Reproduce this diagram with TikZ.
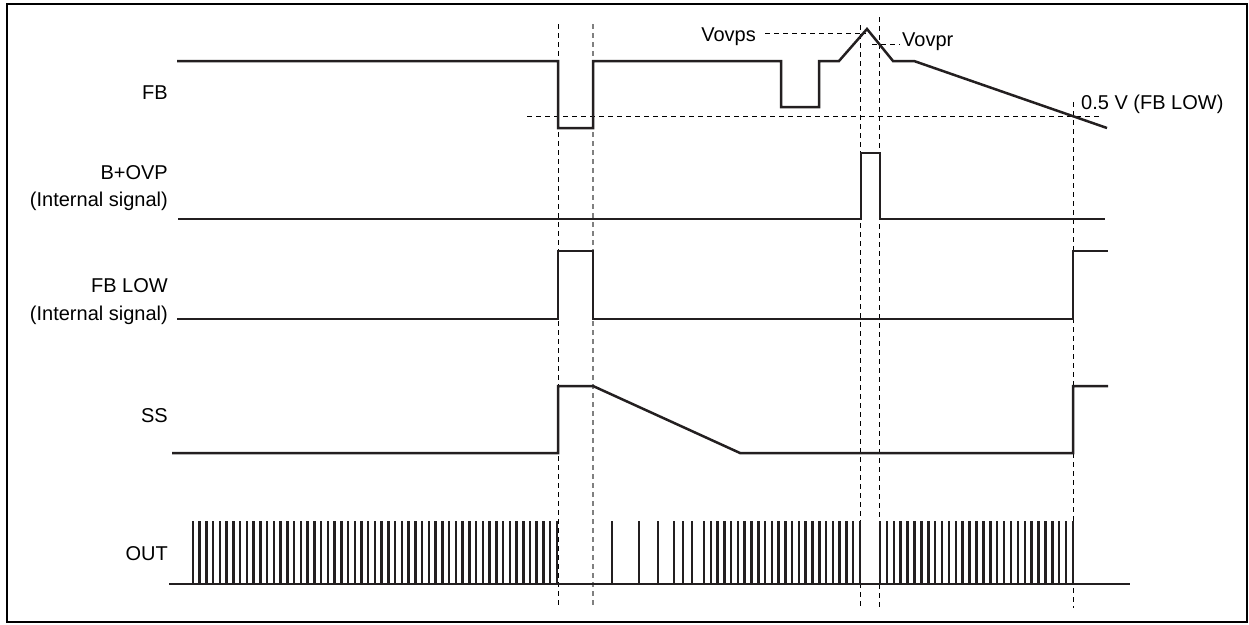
\documentclass[tikz,border=0pt]{standalone}
\usepackage{fontspec}
\setmainfont{Liberation Sans}
\begin{document}
\begin{tikzpicture}[x=1pt,y=-1pt,
  sig/.style={line width=2.5pt,color=sigcol,line join=miter},
  guide/.style={line width=1pt,dash pattern=on 5pt off 4pt,color=black},
  guidegray/.style={line width=1.2pt,dash pattern=on 5pt off 4pt,color=black!50},
  lbl/.style={inner sep=0pt,font=\fontsize{20}{24}\selectfont,color=black}]
\definecolor{sigcol}{RGB}{35,31,32}
\useasboundingbox (0,0) rectangle (1249,624);
\draw[line width=2pt] (7,4) rectangle (1246.5,622);
% vertical guides
\draw[guide] (558,24) -- (558,608);
\draw[guidegray] (593,24) -- (593,608);
\draw[guide] (860.5,25) -- (860.5,608);
\draw[guide] (879,17) -- (879,608);
\draw[guide] (1073,102) -- (1073,608);
% horizontal guides
\draw[guide] (527,116) -- (1100,116);
\draw[guide] (765,33) -- (866,33);
\draw[guide] (872,44) -- (900,44);
% FB
\draw[sig] (177,61) -- (558,61) -- (558,128) -- (593,128) -- (593,61) -- (781,61) -- (781,107) -- (819,107) -- (819,61) -- (839,61) -- (867,29) -- (893,61) -- (914,61) -- (1107,128);
% B+OVP
\draw[sig] (178,219) -- (861,219) -- (861,153) -- (880,153) -- (880,219) -- (1105,219);
% FB LOW
\draw[sig] (177,319) -- (558,319) -- (558,251) -- (593,251) -- (593,319) -- (1073,319) -- (1073,251) -- (1108,251);
% SS
\draw[sig] (172,453) -- (558,453) -- (558,386) -- (593,386) -- (740,453) -- (1073,453) -- (1073,386) -- (1108,386);
% OUT
\draw[sig] (169,584) -- (1130,584);
\foreach \i in {0,...,54} {\draw[sig] ({193+\i*6.74},584) -- ++(0,-63);}
\foreach \x in {612,639,658,674,683,692} {\draw[sig] (\x,584) -- ++(0,-63);}
\foreach \i in {0,...,23} {\draw[sig] ({704+\i*6.78},584) -- ++(0,-63);}
\foreach \i in {0,...,28} {\draw[sig] ({880+\i*6.893},584) -- ++(0,-63);}
% labels
\node[lbl,anchor=base east] (lfb) at (168,99) {FB};
\node[lbl,anchor=base east] (lovp) at (168,179) {B+OVP};
\node[lbl,anchor=base east] (lovpi) at (168,206) {(Internal signal)};
\node[lbl,anchor=base east] (lfbl) at (168,292) {FB LOW};
\node[lbl,anchor=base east] (lfbli) at (168,320) {(Internal signal)};
\node[lbl,anchor=base east] (lss) at (168,422) {SS};
\node[lbl,anchor=base east] (lout) at (168,560) {OUT};
\node[lbl,anchor=base east] (lvovps) at (756,41) {Vovps};
\node[lbl,anchor=base west] (lvovpr) at (902,46) {Vovpr};
\node[lbl,anchor=base west] (lhalf) at (1081,109) {0.5 V (FB LOW)};
\end{tikzpicture}
\end{document}
